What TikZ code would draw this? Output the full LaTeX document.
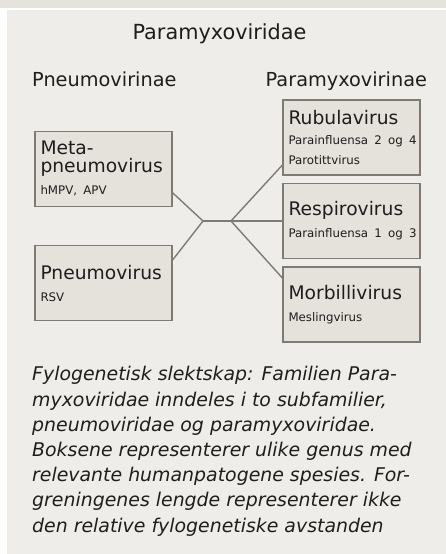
\documentclass[tikz,border=0pt]{standalone}
\usepackage{fontspec}
\setmainfont{DejaVu Sans}
\newfontfamily\speciesfam{DejaVu Sans}[WordSpace=0.6]
\definecolor{panel}{HTML}{EFEDE9}
\definecolor{strip}{HTML}{E6E2DC}
\definecolor{boxfill}{HTML}{E5E1DB}
\definecolor{edgegray}{HTML}{7F7A74}
\definecolor{ink}{HTML}{1E1E1E}
\newcommand{\genusfont}{\fontsize{18.7}{18}\selectfont}
\newcommand{\speciesfont}{\speciesfam\fontsize{11.8}{14}\selectfont}
\begin{document}
\begin{tikzpicture}[x=1pt, y=-1pt,
  genus/.style={rectangle, draw=edgegray, line width=1.2pt, fill=boxfill,
    minimum width=137pt, minimum height=75pt, text width=126pt,
    inner xsep=5.5pt, inner ysep=0pt, align=left, text=ink, font=\genusfont},
  heading/.style={inner sep=0pt, text=ink, font=\fontsize{19.3}{24}\selectfont},
  branch/.style={draw=edgegray, line width=1.4pt}]
  \useasboundingbox (0,0) rectangle (446,554);
  % Background
  \fill[strip] (0,0) rectangle (446,7.5);
  \fill[panel] (7,9.5) rectangle (446,554);

  % Headings
  \node[heading, anchor=base, font=\fontsize{20.8}{24}\selectfont] (family) at (219.5,39.3) {Paramyxoviridae};
  \node[heading, anchor=base west] (pneumosub) at (32,86.7) {Pneumovirinae};
  \node[heading, anchor=base west] (paramyxosub) at (265.5,86.7) {Paramyxovirinae};

  % Genus boxes
  \node[genus] (meta) at (103.5,168.8) {Meta-\\pneumovirus\\[4pt]{\speciesfont hMPV, APV}};
  \node[genus] (pneumo) at (103.5,283) {Pneumovirus\\[4pt]{\speciesfont RSV}};
  \node[genus] (rubula) at (351.5,137.5) {Rubulavirus\\[2pt]{\speciesfont Parainfluensa~2~og~4}\\[1.5pt]{\speciesfont Parotittvirus}};
  \node[genus] (respiro) at (351.5,221) {Respirovirus\\[4pt]{\speciesfont Parainfluensa~1~og~3}};
  \node[genus] (morbilli) at (351.5,304.5) {Morbillivirus\\[4pt]{\speciesfont Meslingvirus}};

  % Branches
  \coordinate (jl) at (203,221);
  \coordinate (jr) at (231,221);
  \foreach \n/\s in {meta/-24, pneumo/23}
    \draw[branch] ([yshift=\s pt]\n.east) -- (jl);
  \draw[branch] (jl) -- (jr);
  \foreach \n/\s in {rubula/-27.5, respiro/0, morbilli/26.5}
    \draw[branch] (jr) -- ([yshift=\s pt]\n.west);

  % Caption
  \node[anchor=base west, inner sep=0pt, align=left, text=ink,
    font=\fontsize{18.9}{25.2}\selectfont\itshape] (caption) at (32,532)
    {Fylogenetisk slektskap: Familien Para-\\
     myxoviridae inndeles i to subfamilier,\\
     pneumoviridae og paramyxoviridae.\\
     Boksene representerer ulike genus med\\
     relevante humanpatogene spesies. For-\\
     greningenes lengde representerer ikke\\
     den relative fylogenetiske avstanden};
\end{tikzpicture}
\end{document}
